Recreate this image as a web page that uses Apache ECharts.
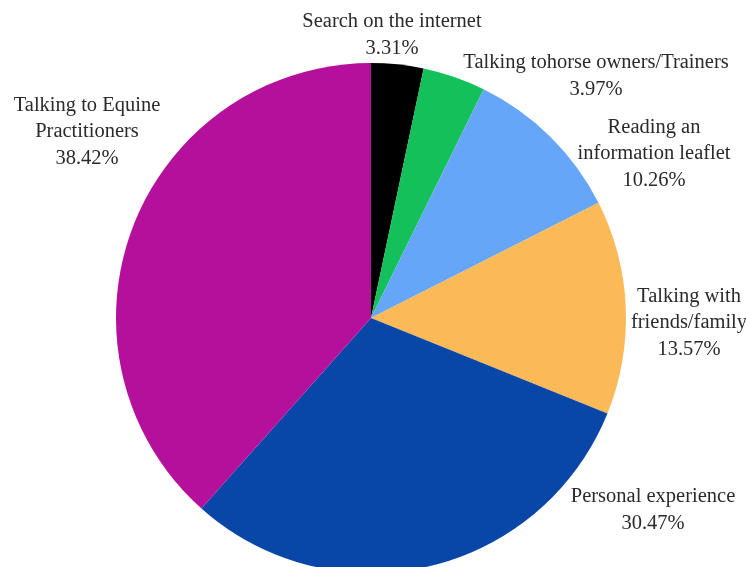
<!DOCTYPE html>
<html>
<head>
<meta charset="utf-8">
<script src="https://cdn.jsdelivr.net/npm/echarts@6/dist/echarts.min.js"></script>
<style>html,body{margin:0;padding:0;background:#fff}#c{width:746px;height:567px}</style>
</head>
<body>
<div id="c"></div>
<script>
var categories = [
  "Search on the internet",
  "Talking tohorse owners/Trainers",
  "Reading an\ninformation leaflet",
  "Talking with\nfriends/family",
  "Personal experience",
  "Talking to Equine\nPractitioners"
];
var values = [3.31, 3.97, 10.26, 13.57, 30.47, 38.42];
var colors = ["#000000", "#14c05a", "#66a6f8", "#fbb957", "#0846a8", "#b5109b"];
// label block centers (text placement only)
var labelCenters = [[392, 35], [596, 76], [654, 154], [689, 323], [653, 510], [87, 132]];

var chart = echarts.init(document.getElementById('c'), null, {renderer: 'canvas'});
chart.setOption({
  backgroundColor: '#fff',
  animation: false,
  series: [{
    type: 'pie',
    center: [371, 318],
    radius: 255,
    startAngle: 90,
    clockwise: true,
    avoidLabelOverlap: false,
    itemStyle: {borderWidth: 0},
    label: {
      show: true,
      position: 'outside',
      formatter: function (p) { return p.name + '\n' + p.value.toFixed(2) + '%'; },
      fontFamily: '"Liberation Serif", "DejaVu Serif", serif',
      fontSize: 20.5,
      lineHeight: 26.5,
      color: '#2a2a2a',
      align: 'center'
    },
    labelLine: {show: false},
    labelLayout: function (params) {
      var c = labelCenters[params.dataIndex];
      return {x: c[0], y: c[1], align: 'center', verticalAlign: 'middle'};
    },
    data: categories.map(function (n, i) {
      return {name: n, value: values[i], itemStyle: {color: colors[i]}};
    })
  }]
});
</script>
</body>
</html>
